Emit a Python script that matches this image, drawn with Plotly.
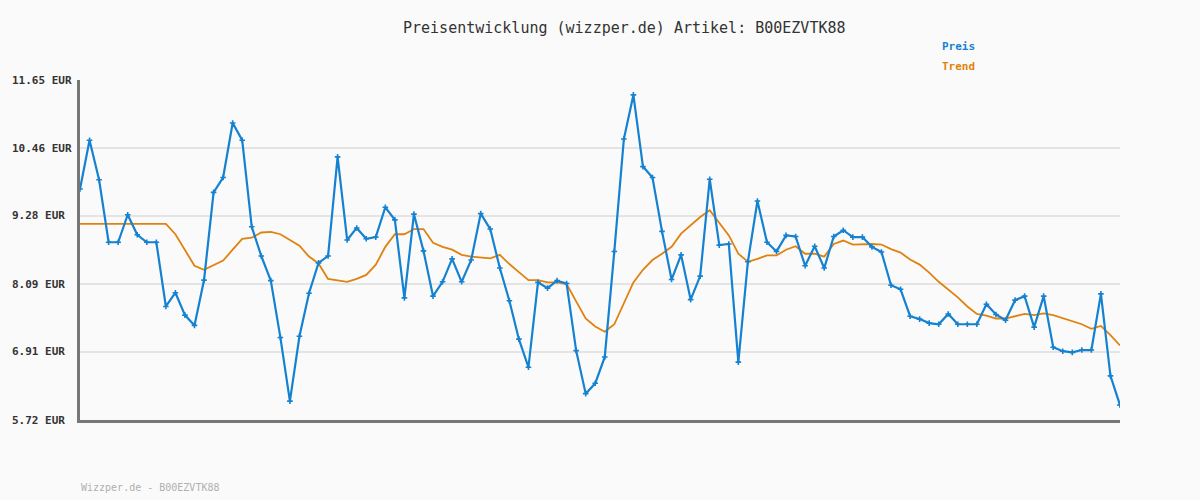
import plotly.graph_objects as go

preis = [9.75, 10.60, 9.91, 8.82, 8.82, 9.30, 8.95, 8.82, 8.82, 7.70,
         7.94, 7.55, 7.37, 8.16, 9.69, 9.95, 10.90, 10.60, 9.09, 8.58,
         8.15, 7.16, 6.05, 7.18, 7.93, 8.46, 8.58, 10.31, 8.86, 9.07,
         8.88, 8.91, 9.43, 9.21, 7.85, 9.31, 8.67, 7.88, 8.13, 8.53,
         8.13, 8.51, 9.32, 9.05, 8.37, 7.80, 7.13, 6.64, 8.12, 8.02,
         8.15, 8.10, 6.93, 6.18, 6.36, 6.82, 8.66, 10.62, 11.39, 10.14,
         9.95, 9.01, 8.17, 8.60, 7.82, 8.23, 9.92, 8.77, 8.79, 6.73,
         8.48, 9.54, 8.82, 8.66, 8.94, 8.92, 8.41, 8.75, 8.37, 8.92,
         9.03, 8.91, 8.91, 8.74, 8.65, 8.07, 8.00, 7.53, 7.48, 7.41,
         7.39, 7.57, 7.39, 7.39, 7.39, 7.74, 7.56, 7.46, 7.81, 7.88,
         7.34, 7.88, 6.99, 6.92, 6.90, 6.94, 6.94, 7.92, 6.49, 5.98]

trend = [9.14, 9.14, 9.14, 9.14, 9.14, 9.14, 9.14, 9.14, 9.14, 9.14,
         8.96, 8.69, 8.41, 8.34, 8.42, 8.50, 8.69, 8.88, 8.90, 8.99,
         9.00, 8.96, 8.86, 8.76, 8.57, 8.45, 8.18, 8.15, 8.13, 8.18,
         8.25, 8.43, 8.74, 8.96, 8.96, 9.05, 9.05, 8.81, 8.74, 8.69,
         8.60, 8.57, 8.56, 8.54, 8.60, 8.44, 8.30, 8.16, 8.16, 8.12,
         8.12, 8.09, 7.79, 7.49, 7.35, 7.26, 7.39, 7.76, 8.12, 8.34,
         8.51, 8.62, 8.74, 8.97, 9.12, 9.26, 9.38, 9.17, 8.94, 8.62,
         8.48, 8.53, 8.59, 8.59, 8.69, 8.75, 8.62, 8.62, 8.57, 8.79,
         8.85, 8.78, 8.79, 8.79, 8.78, 8.70, 8.64, 8.52, 8.43, 8.29,
         8.13, 8.00, 7.86, 7.70, 7.57, 7.54, 7.49, 7.49, 7.53, 7.57,
         7.55, 7.58, 7.55, 7.50, 7.45, 7.39, 7.31, 7.36, 7.20, 7.02]

tick_vals = [5.72, 6.91, 8.09, 9.28, 10.46, 11.65]
tick_text = ["5.72 EUR", "6.91 EUR", "8.09 EUR", "9.28 EUR", "10.46 EUR", "11.65 EUR"]

title_text = "Preisentwicklung (wizzper.de) Artikel: B00EZVTK88"
watermark = "Wizzper.de - B00EZVTK88"

x = list(range(len(preis)))

BLUE = "#1581d1"
ORANGE = "#e0820f"
MONO = "DejaVu Sans Mono, Liberation Mono, monospace"

fig = go.Figure()
fig.add_trace(go.Scatter(x=x, y=trend, mode="lines", name="Trend",
                         line=dict(color=ORANGE, width=1.8), hoverinfo="skip"))
fig.add_trace(go.Scatter(x=x, y=preis, mode="lines+markers", name="Preis",
                         line=dict(color=BLUE, width=2.2),
                         marker=dict(symbol="cross-thin", size=4,
                                     line=dict(color=BLUE, width=1.6))))

L, R, T, B = 80, 80, 80, 80
pw, ph = 1200 - L - R, 500 - T - B


def px_to_paper(px, py):
    return (px - L) / pw, 1 - (py - T) / ph


annotations = []
for v, t in zip(tick_vals, tick_text):
    annotations.append(dict(x=px_to_paper(10, 0)[0], xref="paper", y=v, yref="y", text=t,
                            showarrow=False, xanchor="left", yanchor="middle",
                            font=dict(family=MONO, size=11, color="#333333",
                                      weight="bold")))

extra = [
    ("Preis", 940, 47, "left", dict(family=MONO, size=11, color=BLUE, weight="bold")),
    ("Trend", 940, 67, "left", dict(family=MONO, size=11, color=ORANGE, weight="bold")),
    (watermark, 79, 487, "left", dict(family=MONO, size=10, color="#b0b0b0")),
    (title_text, 624, 28, "center", dict(family=MONO, size=15, color="#333333")),
]
for text, px, py, anchor, font in extra:
    ax, ay = px_to_paper(px, py)
    annotations.append(dict(x=ax, xref="paper", y=ay, yref="paper", text=text,
                            showarrow=False, xanchor=anchor, yanchor="middle", font=font))

fig.update_layout(
    width=1200, height=500,
    margin=dict(l=L, r=R, t=T, b=B),
    paper_bgcolor="#fafafa", plot_bgcolor="#fafafa",
    showlegend=False,
    annotations=annotations,
    xaxis=dict(range=[0, len(preis) - 1], showgrid=False, zeroline=False,
               showticklabels=False, ticks="", showline=True,
               linecolor="#777777", linewidth=3, fixedrange=True),
    yaxis=dict(range=[5.72, 11.65], tickvals=tick_vals, showticklabels=False,
               showgrid=True, gridcolor="#e4e4e4", gridwidth=2, zeroline=False,
               showline=True, linecolor="#777777", linewidth=3, ticks="",
               fixedrange=True),
)

fig.write_html("out.html")
